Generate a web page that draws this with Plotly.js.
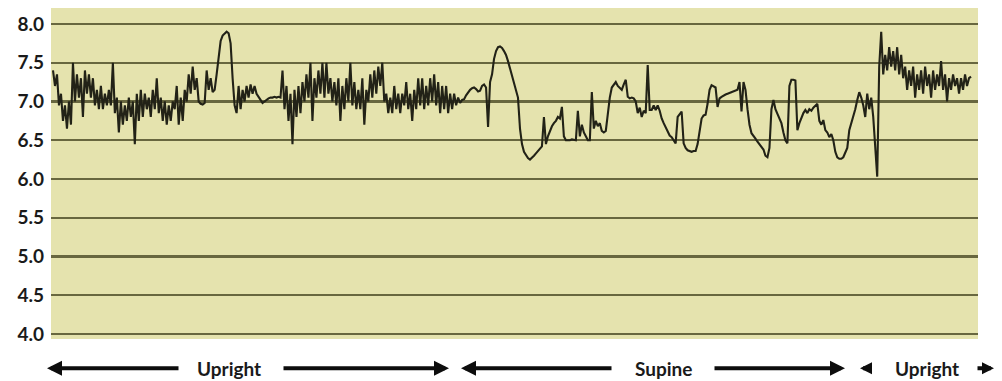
<!DOCTYPE html>
<html>
<head>
<meta charset="utf-8">
<script src="https://cdn.plot.ly/plotly-3.0.1.min.js"></script>
<style>
  html, body { margin: 0; padding: 0; background: #ffffff; }
  #chart { width: 1002px; height: 381px; }
</style>
</head>
<body>
<div id="chart"></div>
<script>
// pH readings, equally spaced samples
const uprightFirst = [
  7.40, 7.20, 7.35, 6.95, 7.10, 6.75, 6.95, 6.65, 7.00, 6.70,
  7.50, 7.00, 7.35, 7.05, 7.30, 6.80, 7.40, 7.10, 7.35, 7.05,
  7.30, 6.95, 7.15, 6.90, 7.20, 6.90, 7.10, 6.95, 7.15, 6.95,
  7.50, 6.85, 7.05, 6.60, 7.00, 6.70, 6.95, 6.75, 7.05, 6.80,
  7.00, 6.45, 7.10, 6.75, 7.15, 6.80, 7.10, 6.90, 7.05, 6.80,
  7.15, 6.90, 7.30, 6.85, 7.05, 6.75, 7.00, 6.70, 6.95, 6.75,
  7.00, 6.90, 7.20, 6.70, 7.05, 6.75, 7.15, 7.00, 7.35, 7.10,
  7.45, 7.15, 7.30, 7.00, 6.97, 6.96, 6.98, 7.40, 7.15, 7.30,
  7.12, 7.15, 7.35, 7.60, 7.78, 7.85, 7.88, 7.90, 7.88, 7.75,
  7.30, 6.95, 6.85, 7.20, 6.90, 7.15, 7.00, 7.20, 7.05, 7.22,
  7.10, 7.20, 7.10, 7.05, 7.02, 6.98, 7.00, 7.03, 7.04, 7.05,
  7.05, 7.06, 7.05, 7.06, 7.05, 7.40, 6.90, 7.20, 6.75, 7.10,
  6.45, 7.15, 6.80, 7.20, 6.85, 7.25, 7.00, 7.35, 7.05, 7.50,
  6.75, 7.30, 7.05, 7.40, 7.10, 7.50, 7.05, 7.50, 7.10, 7.30,
  7.00, 7.25, 6.95, 7.30, 6.75, 7.20, 6.90, 7.30, 7.00, 7.50,
  6.95, 7.25, 6.90, 7.15, 6.90, 7.30, 6.70, 7.15, 7.00, 7.35,
  7.05, 7.40, 7.10, 7.45, 7.20, 7.50, 7.00, 7.10, 6.85, 7.05,
  6.85, 7.20, 6.90, 7.10, 6.85, 7.10, 6.95, 7.25, 6.90, 7.10,
  6.75, 7.15, 6.90, 7.30, 6.95, 7.30, 6.90, 7.20, 6.95, 7.30,
  7.00, 7.35, 6.95, 7.25, 6.85, 7.20, 6.90, 7.20, 6.85, 7.10,
  6.90, 7.10, 6.95, 7.05, 6.98, 7.02
];
const supineValues = [
  7.03, 7.08, 7.12, 7.15, 7.17, 7.18, 7.16, 7.13, 7.14, 7.20,
  7.22, 7.18, 6.67, 7.25, 7.35, 7.55, 7.65, 7.70, 7.71, 7.69,
  7.65, 7.60, 7.52, 7.42, 7.32, 7.25, 7.13, 7.05, 6.65, 6.45,
  6.35, 6.30, 6.27, 6.25, 6.27, 6.30, 6.33, 6.36, 6.40, 6.42,
  6.80, 6.45, 6.55, 6.62, 6.68, 6.72, 6.75, 6.80, 6.78, 6.93,
  6.55, 6.50, 6.50, 6.50, 6.51, 6.50, 6.50, 6.88, 6.55, 6.70,
  6.60, 6.55, 6.50, 6.50, 7.12, 6.65, 6.75, 6.68, 6.72, 6.62,
  6.60, 6.62, 6.85, 7.05, 7.18, 7.22, 7.25, 7.20, 7.18, 7.15,
  7.22, 7.28, 7.06, 7.04, 7.05, 7.04, 7.00, 6.85, 6.92, 6.80,
  6.88, 6.85, 7.47, 6.89, 6.89, 6.95, 6.89, 6.95, 6.88, 6.78,
  6.72, 6.66, 6.60, 6.56, 6.54, 6.50, 6.46, 6.80, 6.84, 6.87,
  6.46, 6.40, 6.37, 6.36, 6.35, 6.36, 6.36, 6.45, 6.65, 6.78,
  6.82, 6.83, 6.97, 7.15, 7.21, 7.20, 7.18, 6.93, 7.04, 7.06,
  7.08, 7.09, 7.10, 7.11, 7.12, 7.13, 7.14, 7.15, 7.25, 6.87,
  7.25, 7.15, 6.90, 6.70, 6.59, 6.56, 6.52, 6.48, 6.45, 6.42,
  6.38, 6.30, 6.28, 6.40, 6.90, 7.02, 6.90, 6.84, 6.78, 6.72,
  6.60, 6.50, 6.46, 7.20, 7.28, 7.28, 7.27, 6.63, 6.72, 6.80,
  6.85, 6.89, 6.85, 6.90, 6.88, 6.92, 6.95, 6.97, 6.75, 6.70,
  6.76, 6.63, 6.60, 6.54, 6.58, 6.50, 6.35, 6.28, 6.26, 6.26,
  6.28, 6.33, 6.40, 6.63, 6.72, 6.80, 6.90, 7.02, 7.12, 7.05,
  6.95, 6.80, 7.10, 6.90, 7.05
];
const uprightSecond = [
  6.80, 6.41, 6.03, 7.45, 7.90, 7.35, 7.60, 7.40, 7.70, 7.45,
  7.65, 7.40, 7.70, 7.35, 7.60, 7.30, 7.45, 7.15, 7.40, 7.20,
  7.45, 7.05, 7.35, 7.15, 7.40, 7.10, 7.45, 7.20, 7.35, 7.05,
  7.40, 7.15, 7.35, 7.20, 7.52, 7.15, 7.35, 7.00, 7.30, 7.15,
  7.35, 7.20, 7.30, 7.10, 7.30, 7.15, 7.35, 7.20, 7.30, 7.32
];
const yTicks = [4.0, 4.5, 5.0, 5.5, 6.0, 6.5, 7.0, 7.5, 8.0];
const yTickLabels = ["4.0", "4.5", "5.0", "5.5", "6.0", "6.5", "7.0", "7.5", "8.0"];
const phaseLabels = ["Upright", "Supine", "Upright"];

const ph = uprightFirst.concat(supineValues, uprightSecond);
const sample = ph.map((_, i) => i);

const trace = {
  x: sample, y: ph, type: 'scatter', mode: 'lines',
  line: { color: '#222217', width: 2.1 },
  hoverinfo: 'skip', showlegend: false
};

const labelFont = { family: 'Lato, "Open Sans", sans-serif', size: 19, color: '#1a1a1a', weight: 'bold' };
const arrowColor = '#0d0d0d';
const ay = -0.088;
function arrow(headX, tailPx, size) {
  return { xref: 'paper', yref: 'paper', x: headX, y: ay, text: '', showarrow: true,
    ax: tailPx, ay: 0, arrowhead: 2, arrowsize: size, arrowwidth: 4, arrowcolor: arrowColor };
}
const W = 927;
const px = p => (p - 51) / W;

const layout = {
  width: 1002, height: 381,
  margin: { l: 51, r: 24, t: 8, b: 42, pad: 0 },
  paper_bgcolor: '#ffffff',
  plot_bgcolor: '#e5e3ae',
  xaxis: {
    range: [-1, 463.5], showgrid: false, zeroline: false, showticklabels: false,
    ticks: '', showline: false, fixedrange: true
  },
  yaxis: {
    range: [3.935, 8.206], tickvals: yTicks, ticktext: yTickLabels,
    showgrid: true, gridcolor: '#68673f', gridwidth: 2.2, zeroline: false,
    showline: false, ticks: '', ticklabelstandoff: 6,
    tickfont: labelFont, fixedrange: true
  },
  annotations: [
    arrow(px(47), 133, 0.75),
    arrow(px(449), -167, 0.75),
    arrow(px(461), 152, 0.75),
    arrow(px(845), -132, 0.75),
    arrow(px(860), 10, 0.6),
    arrow(px(994), -18, 0.6),
    { xref: 'paper', yref: 'paper', x: px(229), y: ay, text: phaseLabels[0], showarrow: false, font: labelFont, xanchor: 'center', yanchor: 'middle' },
    { xref: 'paper', yref: 'paper', x: px(663), y: ay, text: phaseLabels[1], showarrow: false, font: labelFont, xanchor: 'center', yanchor: 'middle' },
    { xref: 'paper', yref: 'paper', x: px(927), y: ay, text: phaseLabels[2], showarrow: false, font: labelFont, xanchor: 'center', yanchor: 'middle' }
  ]
};

Plotly.newPlot('chart', [trace], layout, { staticPlot: true, displayModeBar: false });
</script>
</body>
</html>
